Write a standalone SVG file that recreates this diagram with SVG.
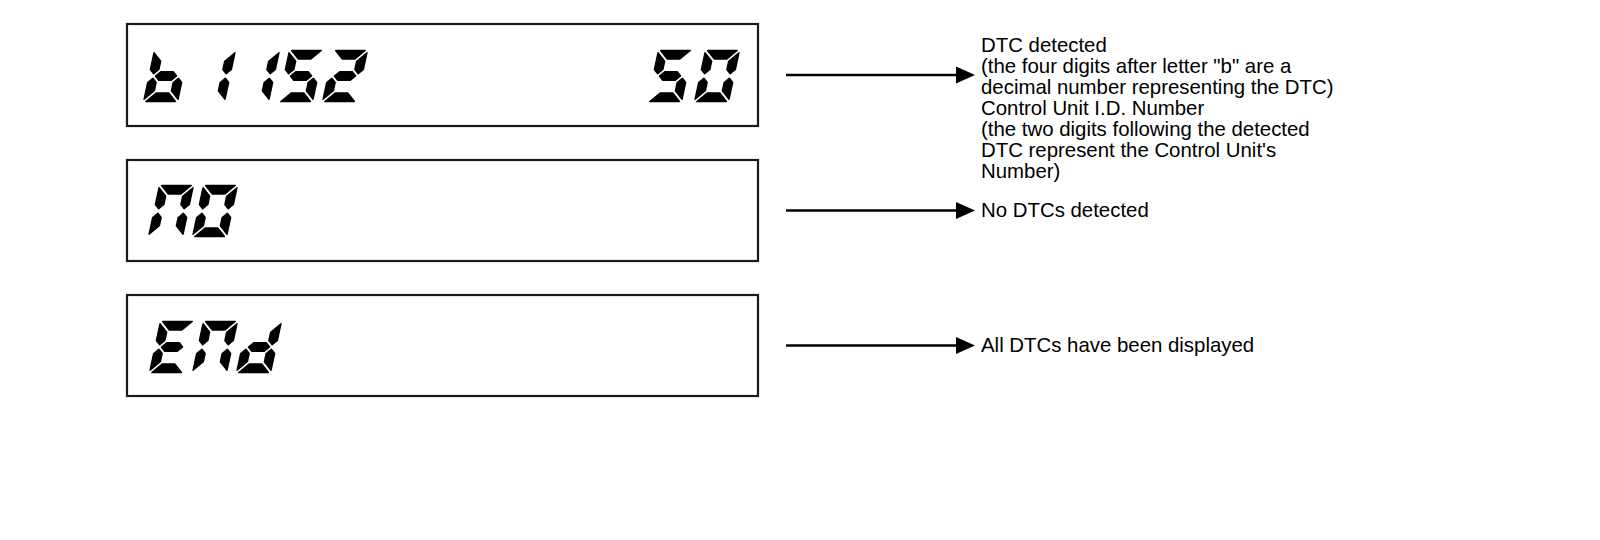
<svg xmlns="http://www.w3.org/2000/svg" width="1600" height="540" viewBox="0 0 1600 540">
<style>
.box{fill:#fff;stroke:#1a1a1a;stroke-width:2.2}
.seg{fill:#000;stroke:#000;stroke-width:1.4;stroke-linejoin:round}
.lbl{font-family:"Liberation Sans",Arial,sans-serif;font-size:20.4px;fill:#000}
.conn{stroke:#000;stroke-width:2.6;fill:none}
</style>
<defs>
<polygon id="sa" class="seg" points="2.7,-51.5 32.3,-51.5 23.8,-43 11.2,-43"/>
<polygon id="sd" class="seg" points="2.7,-0.5 32.3,-0.5 23.8,-9 11.2,-9"/>
<polygon id="sg" class="seg" points="6.95,-26 11.2,-30.25 23.8,-30.25 28.05,-26 23.8,-21.75 11.2,-21.75"/>
<polygon id="sf" class="seg" points="0.5,-49.3 9,-40.8 9,-32.45 4.75,-28.2 0.5,-32.45"/>
<polygon id="se" class="seg" points="0.5,-19.55 4.75,-23.8 9,-19.55 9,-11.2 0.5,-2.7"/>
<polygon id="sb" class="seg" points="34.5,-49.3 26,-40.8 26,-32.45 30.25,-28.2 34.5,-32.45"/>
<polygon id="sc" class="seg" points="34.5,-19.55 30.25,-23.8 26,-19.55 26,-11.2 34.5,-2.7"/>
<marker id="ah" markerWidth="20" markerHeight="18" refX="0" refY="8.5" orient="auto" markerUnits="userSpaceOnUse">
<path d="M0,0 L19,8.5 L0,17 z" fill="#000"/>
</marker>
</defs>
<rect width="1600" height="540" fill="#fff"/>

<g id="display-b115250">
<rect class="box" x="127" y="24" width="631" height="102"/>
<g transform="translate(143,102) skewX(-12)"><use href="#sf"/><use href="#se"/><use href="#sg"/><use href="#sc"/><use href="#sd"/></g>
<g transform="translate(190,102) skewX(-12)"><use href="#sb"/><use href="#sc"/></g>
<g transform="translate(234,102) skewX(-12)"><use href="#sb"/><use href="#sc"/></g>
<g transform="translate(278,102) skewX(-12)"><use href="#sa"/><use href="#sf"/><use href="#sg"/><use href="#sc"/><use href="#sd"/></g>
<g transform="translate(322,102) skewX(-12)"><use href="#sa"/><use href="#sb"/><use href="#sg"/><use href="#se"/><use href="#sd"/></g>
<g transform="translate(647,102) skewX(-12)"><use href="#sa"/><use href="#sf"/><use href="#sg"/><use href="#sc"/><use href="#sd"/></g>
<g transform="translate(694,102) skewX(-12)"><use href="#sa"/><use href="#sb"/><use href="#sc"/><use href="#sd"/><use href="#se"/><use href="#sf"/></g>
</g>

<g id="display-no">
<rect class="box" x="127" y="160" width="631" height="101"/>
<g transform="translate(148,237) skewX(-12)"><use href="#sa"/><use href="#sb"/><use href="#sc"/><use href="#se"/><use href="#sf"/></g>
<g transform="translate(192,237) skewX(-12)"><use href="#sa"/><use href="#sb"/><use href="#sc"/><use href="#sd"/><use href="#se"/><use href="#sf"/></g>
</g>

<g id="display-end">
<rect class="box" x="127" y="295" width="631" height="101"/>
<g transform="translate(149,373) skewX(-12)"><use href="#sa"/><use href="#sf"/><use href="#sg"/><use href="#se"/><use href="#sd"/></g>
<g transform="translate(192,373) skewX(-12)"><use href="#sa"/><use href="#sb"/><use href="#sc"/><use href="#se"/><use href="#sf"/></g>
<g transform="translate(236,373) skewX(-12)"><use href="#sb"/><use href="#sc"/><use href="#sg"/><use href="#se"/><use href="#sd"/></g>
</g>

<g id="connectors">
<line class="conn" x1="786" y1="75" x2="956" y2="75" marker-end="url(#ah)"/>
<line class="conn" x1="786" y1="210.5" x2="956" y2="210.5" marker-end="url(#ah)"/>
<line class="conn" x1="786" y1="345.5" x2="956" y2="345.5" marker-end="url(#ah)"/>
</g>

<g id="label-dtc">
<text class="lbl" x="981" y="51.5">DTC detected</text>
<text class="lbl" x="981" y="72.5">(the four digits after letter "b" are a</text>
<text class="lbl" x="981" y="93.5">decimal number representing the DTC)</text>
<text class="lbl" x="981" y="114.5">Control Unit I.D. Number</text>
<text class="lbl" x="981" y="135.5">(the two digits following the detected</text>
<text class="lbl" x="981" y="156.5">DTC represent the Control Unit's</text>
<text class="lbl" x="981" y="177.5">Number)</text>
</g>
<g id="label-no">
<text class="lbl" x="981" y="217">No DTCs detected</text>
</g>
<g id="label-end">
<text class="lbl" x="981" y="352">All DTCs have been displayed</text>
</g>
</svg>
